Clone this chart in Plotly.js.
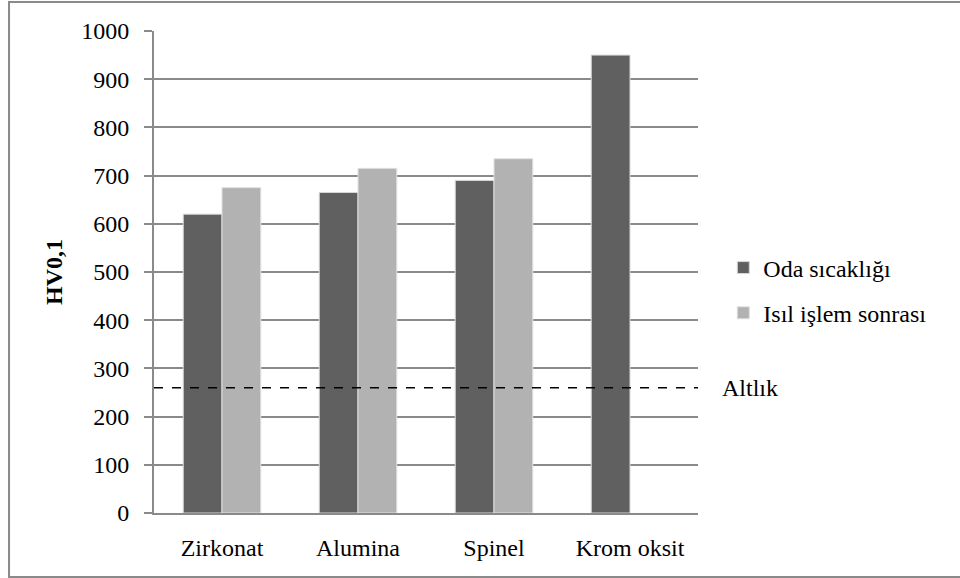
<!DOCTYPE html>
<html>
<head>
<meta charset="utf-8">
<script src="https://cdn.plot.ly/plotly-3.0.1.min.js"></script>
<style>html,body{margin:0;padding:0;background:#fff;}#chart{width:960px;height:578px;}</style>
</head>
<body>
<div id="chart"></div>
<script>
const categories = ["Zirkonat", "Alumina", "Spinel", "Krom oksit"];
const odaSicakligi = [620, 665, 690, 950];
const isilIslem = [675, 715, 735, null];
const seriesNames = ["Oda sıcaklığı", "Isıl işlem sonrası"];
const altlikValue = 260;
const altlikLabel = "Altlık";
const yTicks = [0, 100, 200, 300, 400, 500, 600, 700, 800, 900, 1000];
const yTitle = "HV0,1";

const FONT = "Liberation Serif";
const FS = 24;

const traces = [
  {type: "bar", x: categories, y: odaSicakligi, name: seriesNames[0],
   marker: {color: "#606060", line: {color: "#d8d8d8", width: 1}}, legendgroup: "a"},
  {type: "bar", x: categories, y: isilIslem, name: seriesNames[1],
   marker: {color: "#b2b2b2", line: {color: "#e0e0e0", width: 1}}, legendgroup: "b"}
];

const layout = {
  width: 960, height: 578,
  margin: {l: 154, r: 262, t: 31, b: 65},
  font: {family: FONT, size: FS, color: "#000"},
  barmode: "group", bargap: 0.43, bargroupgap: 0,
  legend: {x: 1.0465, y: 0.555, xanchor: "left", yanchor: "top",
           font: {family: FONT, size: FS, color: "#000"},
           traceorder: "grouped", tracegroupgap: 11},
  xaxis: {type: "category", showline: true, linecolor: "#8a8a8a", linewidth: 2,
          ticklabelstandoff: 12,
          tickfont: {family: FONT, size: FS, color: "#000"}},
  yaxis: {range: [0, 1000], tickvals: yTicks,
          showline: true, linecolor: "#8a8a8a", linewidth: 2,
          ticks: "outside", ticklen: 8, tickcolor: "#8a8a8a", tickwidth: 2,
          ticklabelstandoff: 10,
          gridcolor: "#8a8a8a", gridwidth: 1.5, zeroline: false,
          tickfont: {family: FONT, size: FS, color: "#000"},
          title: {text: "<b>" + yTitle + "</b>", font: {family: FONT, size: FS, color: "#000"}, standoff: 12}},
  shapes: [
    {type: "line", xref: "paper", x0: 0, x1: 1, yref: "y", y0: altlikValue, y1: altlikValue,
     line: {color: "#000", width: 1.5, dash: "dash"}},
    {type: "rect", xref: "paper", yref: "paper", x0: -0.2665, x1: 1.6, y0: -0.1328, y1: 1.06,
     line: {color: "#8a8a8a", width: 2}, fillcolor: "rgba(0,0,0,0)", layer: "below"}
  ],
  annotations: [
    {xref: "paper", x: 1.04, yref: "y", y: altlikValue, text: altlikLabel, showarrow: false,
     xanchor: "left", yanchor: "middle", font: {family: FONT, size: FS, color: "#000"}}
  ]
};

Plotly.newPlot("chart", traces, layout, {displayModeBar: false});
</script>
</body>
</html>
